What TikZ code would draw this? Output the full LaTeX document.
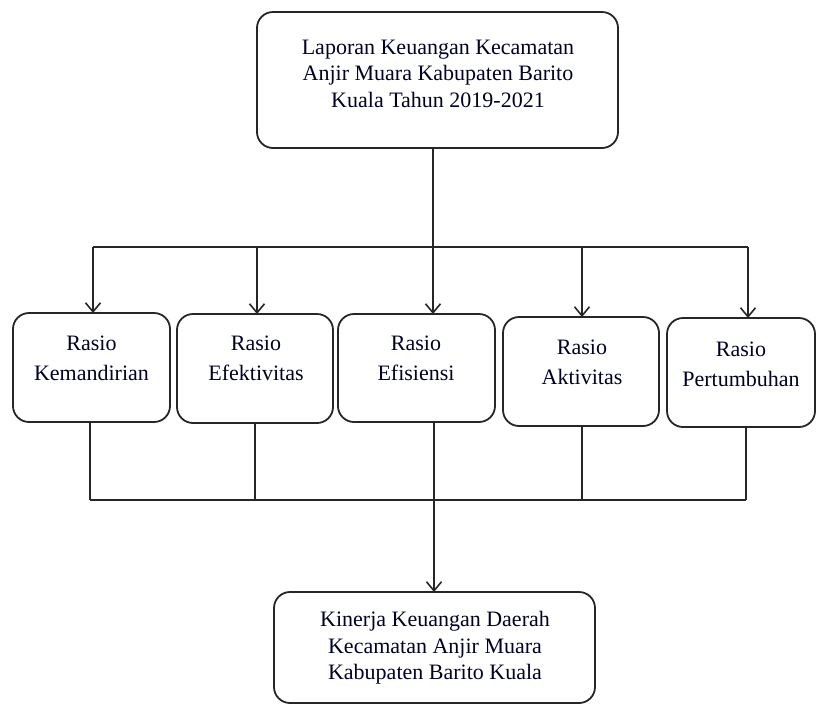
\documentclass[tikz,border=0pt]{standalone}
\usepackage{fontspec}
\setmainfont{Liberation Serif}
\usetikzlibrary{arrows.meta}
\begin{document}
\begin{tikzpicture}[x=1pt,y=-1pt,
  box/.style={draw=black!85,line width=1.8pt,rounded corners=16pt},
  txt/.style={align=center,font=\fontsize{22}{26.5}\selectfont,text=black!85!blue,inner sep=0pt},
  mtxt/.style={align=center,font=\fontsize{22}{30}\selectfont,text=black!85!blue,inner sep=0pt},
  conn/.style={draw=black!85,line width=1.3pt},
  arr/.style={conn,-{Straight Barb[length=9pt,width=15pt,line width=1.6pt]}}]
\useasboundingbox (0,0) rectangle (817,705);
% boxes
\draw[box] (257,12) rectangle (618,148);
\coordinate (tops) at (433,148);
\draw[box] (13,313) rectangle (170,422);
\draw[box] (177,314) rectangle (333,423);
\draw[box] (338,314) rectangle (495,422);
\draw[box] (503,317) rectangle (659,426);
\draw[box] (667,318) rectangle (815,427);
\draw[box] (274,592) rectangle (595,703);
% texts
\node[txt] (ttop) at (438,73.5) {Laporan Keuangan Kecamatan\\Anjir Muara Kabupaten Barito\\Kuala Tahun 2019-2021};
\node[mtxt] (tk) at (91.5,358) {Rasio\\Kemandirian};
\node[mtxt] (tef) at (256,358) {Rasio\\Efektivitas};
\node[mtxt] (tes) at (416,358) {Rasio\\Efisiensi};
\node[mtxt] (tak) at (582,362) {Rasio\\Aktivitas};
\node[mtxt] (tpe) at (741,364) {Rasio\\Pertumbuhan};
\node[txt] (tbot) at (435,648) {Kinerja Keuangan Daerah\\Kecamatan Anjir Muara\\Kabupaten Barito Kuala};
% top bus
\coordinate (b1) at (93,247);
\coordinate (b2) at (257,247);
\coordinate (b3) at (433,247);
\coordinate (b4) at (582,247);
\coordinate (b5) at (748,247);
\coordinate (k1) at (93,313);
\coordinate (k2) at (257,314);
\coordinate (k3) at (433,314);
\coordinate (k4) at (582,317);
\coordinate (k5) at (748,318);
\draw[conn] (tops) -- (b3);
\draw[conn] (b1) -- (b5);
\draw[arr] (b1) -- (k1);
\draw[arr] (b2) -- (k2);
\draw[arr] (b3) -- (k3);
\draw[arr] (b4) -- (k4);
\draw[arr] (b5) -- (k5);
% bottom bus
\coordinate (u1) at (90,422);
\coordinate (u2) at (255,423);
\coordinate (u3) at (434,422);
\coordinate (u4) at (582,426);
\coordinate (u5) at (746,427);
\coordinate (d1) at (90,500);
\coordinate (d2) at (255,500);
\coordinate (d4) at (582,500);
\coordinate (d5) at (746,500);
\coordinate (bt) at (434,592);
\draw[conn] (d1) -- (d5);
\draw[conn] (u1) -- (d1);
\draw[conn] (u2) -- (d2);
\draw[conn] (u4) -- (d4);
\draw[conn] (u5) -- (d5);
\draw[arr] (u3) -- (bt);
\end{tikzpicture}
\end{document}
